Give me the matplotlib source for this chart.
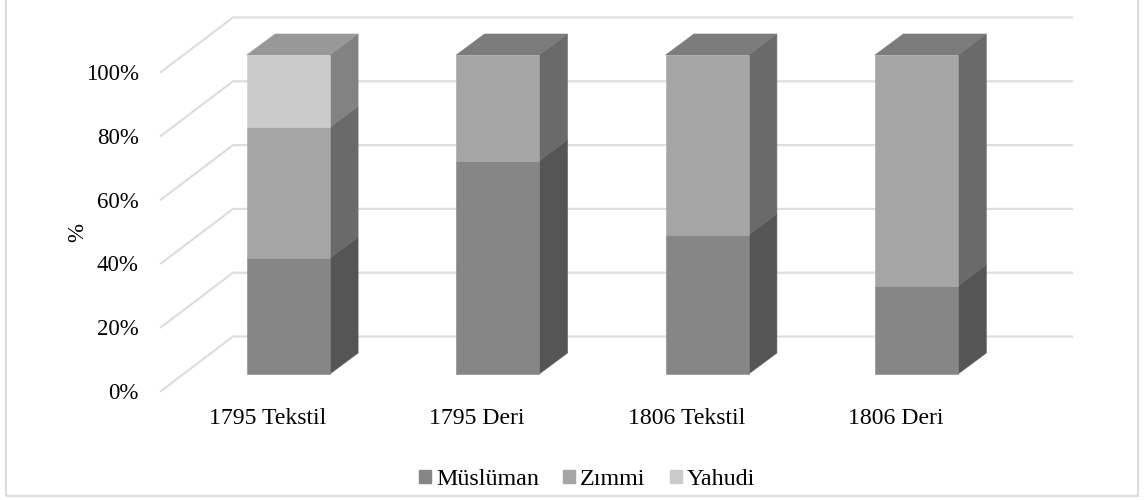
import matplotlib
matplotlib.use("Agg")
import matplotlib.pyplot as plt
from matplotlib.patches import Polygon, Rectangle

plt.rcParams['font.family'] = ['Liberation Serif', 'DejaVu Serif']

categories = ["1795 Tekstil", "1795 Deri", "1806 Tekstil", "1806 Deri"]
muslim = [36.3, 66.8, 43.6, 27.6]
zimmi = [41, 33.2, 56.4, 72.4]
yahudi = [22.7, 0, 0, 0]
series_names = ["Müslüman", "Zımmi", "Yahudi"]
y_ticks = [0, 20, 40, 60, 80, 100]

W, H = 1146, 500
fig = plt.figure(figsize=(W / 100, H / 100), dpi=100, facecolor="white")

ax_left, ax_right, ax_bot, ax_top = 161, 1072, 391, 17
ax = fig.add_axes([ax_left / W, 1 - ax_bot / H, (ax_right - ax_left) / W, (ax_bot - ax_top) / H])
ppy = 3.19
ax.set_ylim(0, (ax_bot - ax_top) / ppy)
ppx = 209.4
x0 = 288.3
ax.set_xlim((ax_left - x0) / ppx, (ax_right - x0) / ppx)
ax.patch.set_alpha(0)
for s in ax.spines.values():
    s.set_visible(False)

dx_back, dy_back = 72 / ppx, 54.5 / ppy
dx_bar, dy_bar = 28.3 / ppx, 21 / ppy
bar_oy = 17 / ppy
half = 41.5 / ppx

grid_c = "#dedede"
xmin, xmax = ax.get_xlim()
for v in y_ticks:
    ax.plot([xmin, xmin + dx_back, xmax], [v, v + dy_back, v + dy_back],
            color=grid_c, lw=1.6, solid_joinstyle="miter", zorder=1, clip_on=False)

front = ["#868686", "#a5a5a5", "#cbcbcb"]
side = ["#555555", "#6a6a6a", "#828282"]
top = ["#6a6a6a", "#7c7c7c", "#989898"]
for i in range(len(categories)):
    b = 0
    vals = [muslim[i], zimmi[i], yahudi[i]]
    last = max(k for k, v in enumerate(vals) if v > 0)
    xl = i - half
    xr = i + half
    for k, v in enumerate(vals):
        if v <= 0:
            continue
        y0 = b + bar_oy
        y1 = b + v + bar_oy
        ax.add_patch(Polygon([(xr, y0), (xr + dx_bar, y0 + dy_bar), (xr + dx_bar, y1 + dy_bar), (xr, y1)],
                             closed=True, fc=side[k], ec=side[k], lw=0.4, zorder=3))
        ax.add_patch(Rectangle((xl, y0), xr - xl, y1 - y0, fc=front[k], ec=front[k], lw=0.4, zorder=4))
        if k == last:
            ax.add_patch(Polygon([(xl, y1), (xl + dx_bar, y1 + dy_bar), (xr + dx_bar, y1 + dy_bar), (xr, y1)],
                                 closed=True, fc=top[k], ec=top[k], lw=0.4, zorder=3))
        b += v

ax.set_yticks(y_ticks)
ax.set_yticklabels([f"{v}%" for v in y_ticks], fontsize=16.5, color="black")
ax.set_xticks([i - 20.8 / ppx for i in range(len(categories))])
ax.set_xticklabels(categories, fontsize=17.1, color="black")
ax.tick_params(axis="both", length=0)
ax.tick_params(axis="y", pad=16)
ax.tick_params(axis="x", pad=12)
ax.set_ylabel("%", fontsize=16.5, color="black")
ax.yaxis.set_label_coords((88 - ax_left) / (ax_right - ax_left), (ax_bot - 232) / (ax_bot - ax_top))

handles = [Rectangle((0, 0), 1, 1, fc=c, ec=c) for c in front]
fig.legend(handles, series_names, loc="center", bbox_to_anchor=(587 / W, 1 - 479.5 / H), ncol=3, frameon=False,
           fontsize=17.3, handlelength=0.5, handleheight=0.5, handletextpad=0.22, columnspacing=1.0)

fig.add_artist(Rectangle((6 / W, 1 - 496 / H), 1132.3 / W, 510 / H, transform=fig.transFigure,
                         fc="none", ec="#dcdcdc", lw=1.5))
fig.savefig("out.png", dpi=100)
